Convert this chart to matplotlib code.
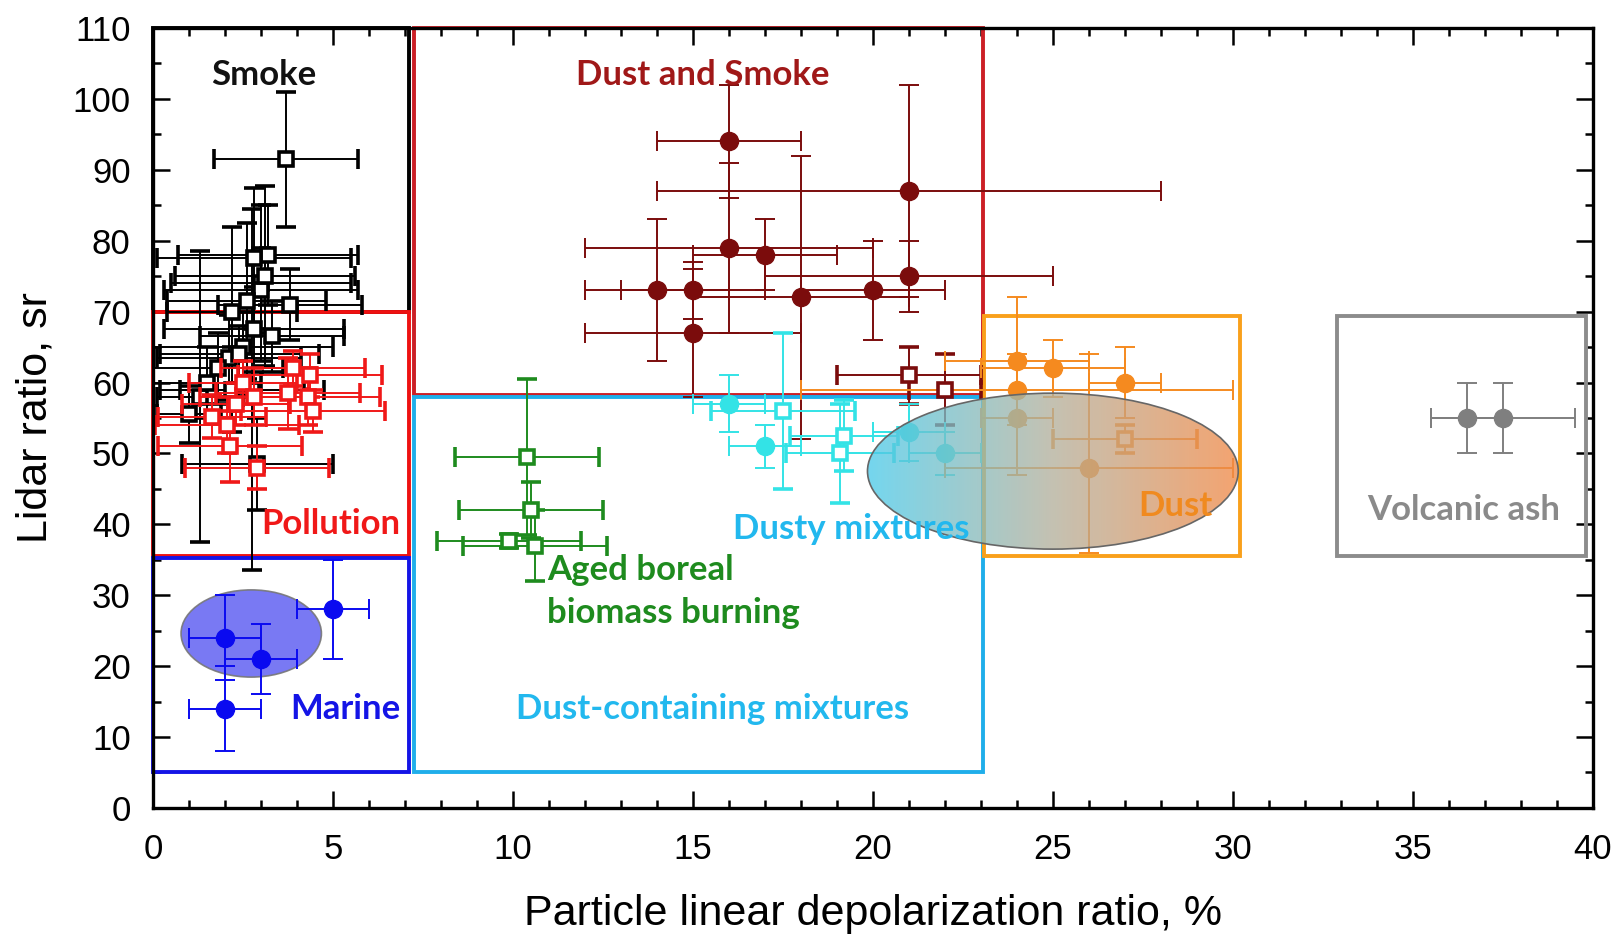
import numpy as np
import matplotlib
matplotlib.use("Agg")
import matplotlib.pyplot as plt
from matplotlib.patches import Rectangle, Ellipse
from matplotlib.colors import LinearSegmentedColormap

# ---------------- data ----------------
smoke_x = [3.7, 3.2, 2.8, 3.0, 3.0, 2.6, 3.8, 2.8, 2.5, 2.1, 1.8, 1.3, 2.75, 1.5, 2.2, 1.0, 2.9, 2.4, 3.3, 2.2, 3.1]
smoke_y = [91.5, 78, 77.5, 74, 73, 71.5, 71, 67.5, 65, 63.5, 62, 58, 59, 60, 59, 55.5, 48.5, 64, 66.5, 70, 75]
smoke_xerr = [2.0, 2.5, 2.7, 2.5, 2.7, 2.2, 2.0, 2.5, 2.5, 2.0, 1.8, 1.2, 2.0, 1.5, 2.0, 0.9, 2.1, 2.2, 2.0, 1.8, 2.5]
smoke_yerr = [9.5, 7, 10, 11, 6, 11, 5, 6, 5, 6, 5, 20.5, 25.5, 5, 6, 4, 6.5, 4, 5, 12, 12.7]

poll_x = [3.9, 4.35, 3.75, 4.3, 4.45, 1.65, 2.05, 2.15, 2.9, 2.5, 2.8, 2.3]
poll_y = [62, 61, 58.5, 58, 56, 55.2, 54, 51, 48, 60, 58, 57]
poll_xerr = [2, 2, 2, 2, 2, 1.5, 2, 2, 2, 1.5, 1.5, 1.5]
poll_yerr = [2.5, 3, 5, 4, 3, 3, 4, 5, 3, 3, 4, 3]

marine_x = [2, 3, 5, 2]
marine_y = [24, 21, 28, 14]
marine_xerr = [1, 1, 1, 1]
marine_yerr = [6, 5, 7, 6]

ds_x = [16, 21, 16, 17, 14, 15, 15, 18, 20, 21]
ds_y = [94, 87, 79, 78, 73, 73, 67, 72, 73, 75]
ds_xerr = [2, 7, 4, 2, 2, 2, 3, 3, 2, 4]
ds_yerr = [8, 15, 12, 5, 10, 4, 9, 20, 7, 5]
ds_sq_x = [21, 22]
ds_sq_y = [61, 59]
ds_sq_xerr = [2, 1]
ds_sq_yerr = [4, 5]

dm_x = [16, 17, 21, 22]
dm_y = [57, 51, 53, 50]
dm_xerr = [1, 1, 1, 1]
dm_yerr = [4, 3, 4, 3]
dm_sq_x = [17.5, 19.2, 19.1]
dm_sq_y = [56, 52.5, 50]
dm_sq_xerr = [2, 1.5, 1.5]
dm_sq_yerr = [11, 5, 7]

boreal_x = [10.4, 10.5, 9.9, 10.6]
boreal_y = [49.5, 42, 37.6, 37]
boreal_xerr = [2, 2, 2, 2]
boreal_yerr = [11, 4, 1, 5]

dust_x = [24, 25, 27, 24, 24, 26]
dust_y = [63, 62, 60, 59, 55, 48]
dust_xerr = [2, 2, 1, 6, 1, 4]
dust_yerr_lo = [9, 4, 5, 5, 8, 12]
dust_yerr_hi = [9, 4, 5, 5, 8, 16]
dust_sq_x = [27]
dust_sq_y = [52]
dust_sq_xerr = [2]
dust_sq_yerr = [2]

ash_x = [36.5, 37.5]
ash_y = [55, 55]
ash_xerr = [1, 2]
ash_yerr = [5, 5]

xticks = [0, 5, 10, 15, 20, 25, 30, 35, 40]
yticks = [0, 10, 20, 30, 40, 50, 60, 70, 80, 90, 100, 110]

# ---------------- figure ----------------
fig = plt.figure(figsize=(16.22, 9.34), dpi=100)
ax = fig.add_axes([0.0943, 0.135, 0.8877, 0.835])
ax.set_xlim(0, 40)
ax.set_ylim(0, 110)

# category boxes
boxes = [
    ((0, 70), 7.1, 40, "#000000"),
    ((0, 35.5), 7.1, 34.5, "#EE1111"),
    ((0, 5), 7.1, 30.3, "#1414E6"),
    ((7.25, 58.3), 15.8, 51.7, "#CC1F26"),
    ((7.25, 5), 15.8, 53, "#1FAEEA"),
    ((23.1, 35.6), 7.1, 33.8, "#F9A01B"),
    ((32.9, 35.6), 6.9, 33.8, "#8C8C8C"),
]
for xy, w, h, c in boxes:
    ax.add_patch(Rectangle(xy, w, h, fill=False, ec=c, lw=2.8, zorder=2, clip_on=False))

# marine ellipse (under points)
ax.add_patch(Ellipse((2.73, 24.6), 3.9, 12.3, fc="#6A6AF2", ec="#777777", lw=1.2, alpha=0.9, zorder=3))

ekw = dict(capsize=7, elinewidth=1.4, capthick=1.4)

def sq(x, y, xe, ye, c, z=4):
    ax.errorbar(x, y, xerr=xe, yerr=ye, fmt="s", mfc="white", mec=c, mew=2.6,
                ms=10, ecolor=c, zorder=z, **ekw)

def circ(x, y, xe, ye, c, z=4):
    ax.errorbar(x, y, xerr=xe, yerr=ye, fmt="o", mfc=c, mec=c, ms=13,
                ecolor=c, zorder=z, **ekw)

sq(smoke_x, smoke_y, smoke_xerr, smoke_yerr, "#000000")
sq(poll_x, poll_y, poll_xerr, poll_yerr, "#F01818", z=5)
circ(marine_x, marine_y, marine_xerr, marine_yerr, "#0A0AF0")
circ(ds_x, ds_y, ds_xerr, ds_yerr, "#7B0C0C")
sq(ds_sq_x, ds_sq_y, ds_sq_xerr, ds_sq_yerr, "#7B0C0C")
circ(dm_x, dm_y, dm_xerr, dm_yerr, "#33E3E6")
sq(dm_sq_x, dm_sq_y, dm_sq_xerr, dm_sq_yerr, "#33E3E6")
sq(boreal_x, boreal_y, boreal_xerr, boreal_yerr, "#1E8B1E")
circ(dust_x, dust_y, dust_xerr, [dust_yerr_lo, dust_yerr_hi], "#F58A1F")
sq(dust_sq_x, dust_sq_y, dust_sq_xerr, dust_sq_yerr, "#F58A1F")
circ(ash_x, ash_y, ash_xerr, ash_yerr, "#7F7F7F")

# gradient ellipse over dusty / dust points
ell = Ellipse((25.0, 47.5), 10.3, 22.0, fc="none", ec="#666666", lw=1.2, zorder=7)
ax.add_patch(ell)
cmap = LinearSegmentedColormap.from_list("g", ["#4CCBEA", "#B4B09C", "#F08A48"])
grad = np.linspace(0, 1, 256).reshape(1, -1)
im = ax.imshow(grad, cmap=cmap, extent=(19.85, 30.15, 36.5, 58.5), aspect="auto",
               alpha=0.78, zorder=6, interpolation="bilinear")
im.set_clip_path(ell)
ax.set_xlim(0, 40)
ax.set_ylim(0, 110)

# labels
lab = dict(fontfamily=["Lato", "DejaVu Sans"], fontweight="bold", fontsize=25, zorder=10)
ax.text(3.07, 103.4, "Smoke", color="#111111", ha="center", va="center", **lab)
ax.text(15.26, 103.4, "Dust and Smoke", color="#A01818", ha="center", va="center", **lab)
ax.text(4.94, 40.1, "Pollution", color="#F01818", ha="center", va="center", **lab)
ax.text(5.34, 13.9, "Marine", color="#1414E6", ha="center", va="center", **lab)
ax.text(10.95, 30.5, "Aged boreal\nbiomass burning", color="#1E8B1E", ha="left", va="center",
        linespacing=1.42, **lab)
ax.text(19.4, 39.4, "Dusty mixtures", color="#22B8EE", ha="center", va="center", **lab)
ax.text(15.55, 14.0, "Dust-containing mixtures", color="#22B8EE", ha="center", va="center", **lab)
ax.text(28.4, 42.6, "Dust", color="#F08A1F", ha="center", va="center", **lab)
ax.text(36.4, 42.0, "Volcanic ash", color="#8A8A8A", ha="center", va="center", **lab)

# axes styling
tickfont = ["Liberation Sans Narrow", "Liberation Sans", "DejaVu Sans"]
ax.set_xticks(xticks)
ax.set_yticks(yticks)
ax.set_xticks(np.arange(0, 41, 1), minor=True)
ax.set_yticks(np.arange(0, 111, 5), minor=True)
ax.tick_params(which="both", direction="in", top=True, right=True, width=1.8, color="black")
ax.tick_params(which="major", length=12, labelsize=25, pad=12)
ax.tick_params(axis="x", which="major", pad=18)
ax.tick_params(axis="y", which="major", pad=16)
ax.tick_params(which="minor", length=6)
for lbl in ax.get_xticklabels() + ax.get_yticklabels():
    lbl.set_fontfamily(tickfont)
for s in ax.spines.values():
    s.set_linewidth(2.4)
    s.set_zorder(8)
ax.set_xlabel("Particle linear depolarization ratio, %", fontsize=31, fontfamily=tickfont, labelpad=20)
ax.set_ylabel("Lidar ratio, sr", fontsize=31, fontfamily=tickfont, labelpad=12)

fig.savefig("out.png", dpi=100)
